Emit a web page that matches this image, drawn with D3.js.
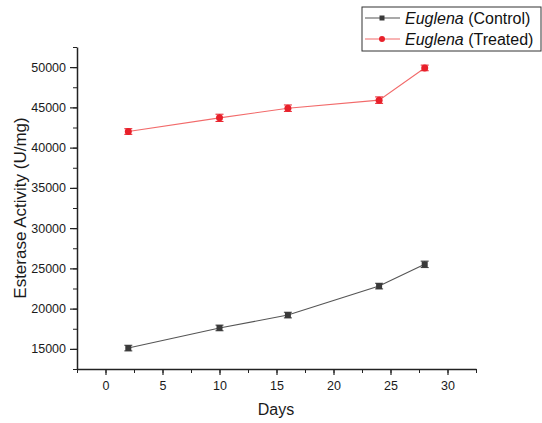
<!DOCTYPE html>
<html>
<head>
<meta charset="utf-8">
<script src="https://cdn.jsdelivr.net/npm/d3@7"></script>
<style>
  body { margin: 0; background: #fff; }
  svg { font-family: "Liberation Sans", Arial, sans-serif; }
</style>
</head>
<body>
<script>
// chart data
const days = [2, 10, 16, 24, 28];
const control = [15100, 17600, 19200, 22800, 25500];
const controlErr = [350, 350, 350, 350, 400];
const treated = [42000, 43700, 44900, 45900, 49900];
const treatedErr = [350, 450, 400, 400, 350];
const xTicks = [0, 5, 10, 15, 20, 25, 30];
const yTicks = [15000, 20000, 25000, 30000, 35000, 40000, 45000, 50000];

const w = 542;
const h = 423;
const m = { left: 77, right: 66, top: 47, bottom: 54 };

let svg = d3.select('body').append('svg').attr('width', w).attr('height', h);

let x = d3.scaleLinear().domain([-2.5, 32.5]).range([m.left, w - m.right]);
let y = d3.scaleLinear().domain([12500, 52500]).range([h - m.bottom, m.top]);

// x axis
let xMinor = d3.range(-2.5, 33, 2.5);
svg.append('g')
  .attr('transform', 'translate(0,' + (h - m.bottom) + ')')
  .call(d3.axisBottom(x).tickValues(xMinor).tickSize(4).tickFormat(''))
  .call((g) => g.select('.domain').remove())
  .selectAll('line').attr('stroke', '#222');
svg.append('g')
  .attr('class', 'x axis')
  .attr('transform', 'translate(0,' + (h - m.bottom) + ')')
  .call(d3.axisBottom(x).tickValues(xTicks).tickSize(6).tickSizeOuter(0).tickPadding(6));

// y axis
let yMinor = d3.range(12500, 52501, 2500);
svg.append('g')
  .attr('transform', 'translate(' + m.left + ',0)')
  .call(d3.axisLeft(y).tickValues(yMinor).tickSize(4).tickFormat(''))
  .call((g) => g.select('.domain').remove())
  .selectAll('line').attr('stroke', '#222');
svg.append('g')
  .attr('class', 'y axis')
  .attr('transform', 'translate(' + m.left + ',0)')
  .call(d3.axisLeft(y).tickValues(yTicks).tickSize(7).tickSizeOuter(0).tickPadding(4).tickFormat(d3.format('d')));

svg.selectAll('.axis .domain').attr('stroke', '#222').attr('stroke-width', 1.5);
svg.selectAll('.axis line').attr('stroke', '#222').attr('stroke-width', 1.2);
svg.selectAll('.axis text').attr('font-size', 12.5).attr('fill', '#1a1a1a')
  .attr('font-family', '"Liberation Sans", Arial, sans-serif');

// axis titles
svg.append('text')
  .attr('x', 276)
  .attr('y', 415)
  .attr('text-anchor', 'middle')
  .attr('font-size', 16)
  .attr('fill', '#1a1a1a')
  .text('Days');

svg.append('text')
  .attr('transform', 'translate(26,208) rotate(-90)')
  .attr('text-anchor', 'middle')
  .attr('font-size', 17)
  .attr('fill', '#1a1a1a')
  .text('Esterase Activity (U/mg)');

const series = [
  { name: 'Control', vals: control, err: controlErr, line: '#555', mark: '#3a3a3a', shape: 'square' },
  { name: 'Treated', vals: treated, err: treatedErr, line: '#f26a6a', mark: '#e8202a', shape: 'circle' }
];

series.forEach((s) => {
  let pts = days.map((d, i) => ({ d: d, v: s.vals[i], e: s.err[i] }));
  svg.append('path')
    .datum(pts)
    .attr('fill', 'none')
    .attr('stroke', s.line)
    .attr('stroke-width', 1.1)
    .attr('d', d3.line().x((p) => x(p.d)).y((p) => y(p.v)));

  let eb = svg.append('g').selectAll('g').data(pts).enter().append('g');
  eb.append('line')
    .attr('x1', (p) => x(p.d)).attr('x2', (p) => x(p.d))
    .attr('y1', (p) => y(p.v - p.e)).attr('y2', (p) => y(p.v + p.e))
    .attr('stroke', s.mark).attr('stroke-width', 1);
  [-1, 1].forEach((k) => {
    eb.append('line')
      .attr('x1', (p) => x(p.d) - 4).attr('x2', (p) => x(p.d) + 4)
      .attr('y1', (p) => y(p.v + k * p.e)).attr('y2', (p) => y(p.v + k * p.e))
      .attr('stroke', s.mark).attr('stroke-width', 1);
  });

  if (s.shape === 'square') {
    svg.append('g').selectAll('rect').data(pts).enter().append('rect')
      .attr('x', (p) => x(p.d) - 3).attr('y', (p) => y(p.v) - 3)
      .attr('width', 6).attr('height', 6)
      .attr('fill', s.mark);
  } else {
    svg.append('g').selectAll('circle').data(pts).enter().append('circle')
      .attr('cx', (p) => x(p.d)).attr('cy', (p) => y(p.v))
      .attr('r', 3.5)
      .attr('fill', s.mark);
  }
});

// legend
let lg = svg.append('g').attr('transform', 'translate(362,7)');
lg.append('rect')
  .attr('width', 179).attr('height', 44)
  .attr('fill', '#fff').attr('stroke', '#333').attr('stroke-width', 1);
series.forEach((s, i) => {
  let ly = 11 + i * 21;
  lg.append('line').attr('x1', 3).attr('x2', 38).attr('y1', ly).attr('y2', ly)
    .attr('stroke', s.line).attr('stroke-width', 1.1);
  if (s.shape === 'square') {
    lg.append('rect').attr('x', 17.5).attr('y', ly - 2.5).attr('width', 5).attr('height', 5).attr('fill', s.mark);
  } else {
    lg.append('circle').attr('cx', 20).attr('cy', ly).attr('r', 3).attr('fill', s.mark);
  }
  let t = lg.append('text').attr('x', 43).attr('y', ly + 5.5).attr('font-size', 16).attr('fill', '#111');
  t.append('tspan').attr('font-style', 'italic').text('Euglena');
  t.append('tspan').text(' (' + s.name + ')');
});
</script>
</body>
</html>
